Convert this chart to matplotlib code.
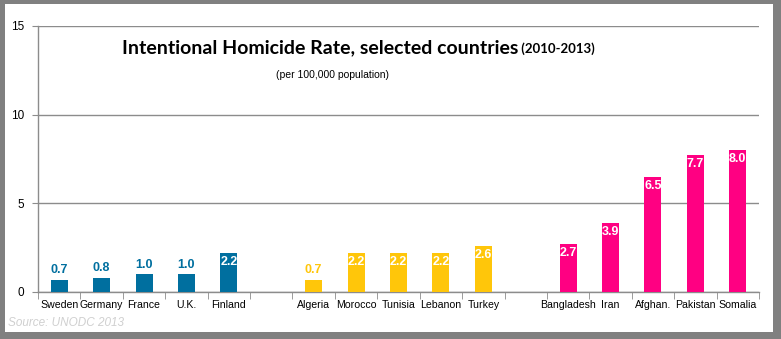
import matplotlib
matplotlib.use("Agg")
import matplotlib.pyplot as plt
from matplotlib.patches import Rectangle

# data
countries = ["Sweden", "Germany", "France", "U.K.", "Finland", "",
             "Algeria", "Morocco", "Tunisia", "Lebanon", "Turkey", "",
             "Bangladesh", "Iran", "Afghan.", "Pakistan", "Somalia"]
rates = [0.7, 0.8, 1.0, 1.0, 2.2, None,
         0.7, 2.2, 2.2, 2.2, 2.6, None,
         2.7, 3.9, 6.5, 7.7, 8.0]
groups = ["europe"] * 5 + [None] + ["mena"] * 5 + [None] + ["asia"] * 5
yticks = [0, 5, 10, 15]

colors = {"europe": "#006f9f", "mena": "#ffc60a", "asia": "#ff0082"}
narrow = ["Liberation Sans Narrow", "DejaVu Sans Condensed", "Liberation Sans"]

W, H = 781, 339
fig = plt.figure(figsize=(W / 100, H / 100), dpi=100)
fig.patch.set_facecolor("#808080")
fig.add_artist(Rectangle((5 / W, 1 - 332 / H), 768 / W, 328 / H,
                         transform=fig.transFigure, facecolor="white",
                         edgecolor="none", zorder=0))

ax = fig.add_axes([38 / W, 1 - 292 / H, 721 / W, 266 / H])
ax.set_facecolor("none")

n = len(countries)
xs = list(range(n))
for x, v, g in zip(xs, rates, groups):
    if v is None:
        continue
    ax.bar(x, v, width=0.4, color=colors[g], zorder=3)
    if v >= 2.0:
        ax.annotate(f"{v:.1f}", (x, v), xytext=(0, -2), textcoords="offset points",
                    ha="center", va="top", color="white", fontsize=9,
                    fontweight="bold", family=narrow, zorder=4)
    else:
        ax.annotate(f"{v:.1f}", (x, v), xytext=(0, 2.5), textcoords="offset points",
                    ha="center", va="bottom", color=colors[g], fontsize=9,
                    fontweight="bold", family=narrow, zorder=4)

ax.set_xlim(-0.5, n - 0.5)
ax.set_ylim(0, 15)
ax.set_yticks(yticks)
ax.set_yticklabels([str(t) for t in yticks], fontsize=8.5, family="Liberation Sans")
ax.yaxis.grid(True, color="#8c8c8c", linewidth=1, zorder=0)
ax.set_axisbelow(True)

ax.set_xticks(xs)
ax.set_xticklabels(countries, fontsize=7.6, family="Liberation Sans")
ax.set_xticks([i - 0.5 for i in range(n + 1)], minor=True)
ax.tick_params(axis="x", which="major", length=0, pad=6)
ax.tick_params(axis="x", which="minor", length=5, color="#8c8c8c")
ax.tick_params(axis="y", length=4, color="#8c8c8c", pad=6)

for s in ["top", "right"]:
    ax.spines[s].set_visible(False)
for s in ["left", "bottom"]:
    ax.spines[s].set_color("#8c8c8c")
    ax.spines[s].set_linewidth(1)

t = fig.text(122 / W, 1 - 48 / H, "Intentional Homicide Rate, selected countries",
             fontsize=14, fontweight="bold", family="Lato", va="center", ha="left")
ax.annotate(" (2010-2013)", xy=(1, 0), xycoords=t, xytext=(0, 1),
            textcoords="offset points", fontsize=9.5, fontweight="bold",
            family="Lato", va="bottom", ha="left", annotation_clip=False)
fig.text(332 / W, 1 - 75 / H, "(per 100,000 population)", fontsize=7.5,
         family="Liberation Sans", ha="center", va="center")

fig.text(8 / W, 1 - 323 / H, "Source: UNODC 2013", fontsize=8.5, style="italic",
         color="#d0d0d0", family="Liberation Sans", ha="left", va="center")

fig.savefig("out.png", dpi=100, facecolor=fig.get_facecolor())
